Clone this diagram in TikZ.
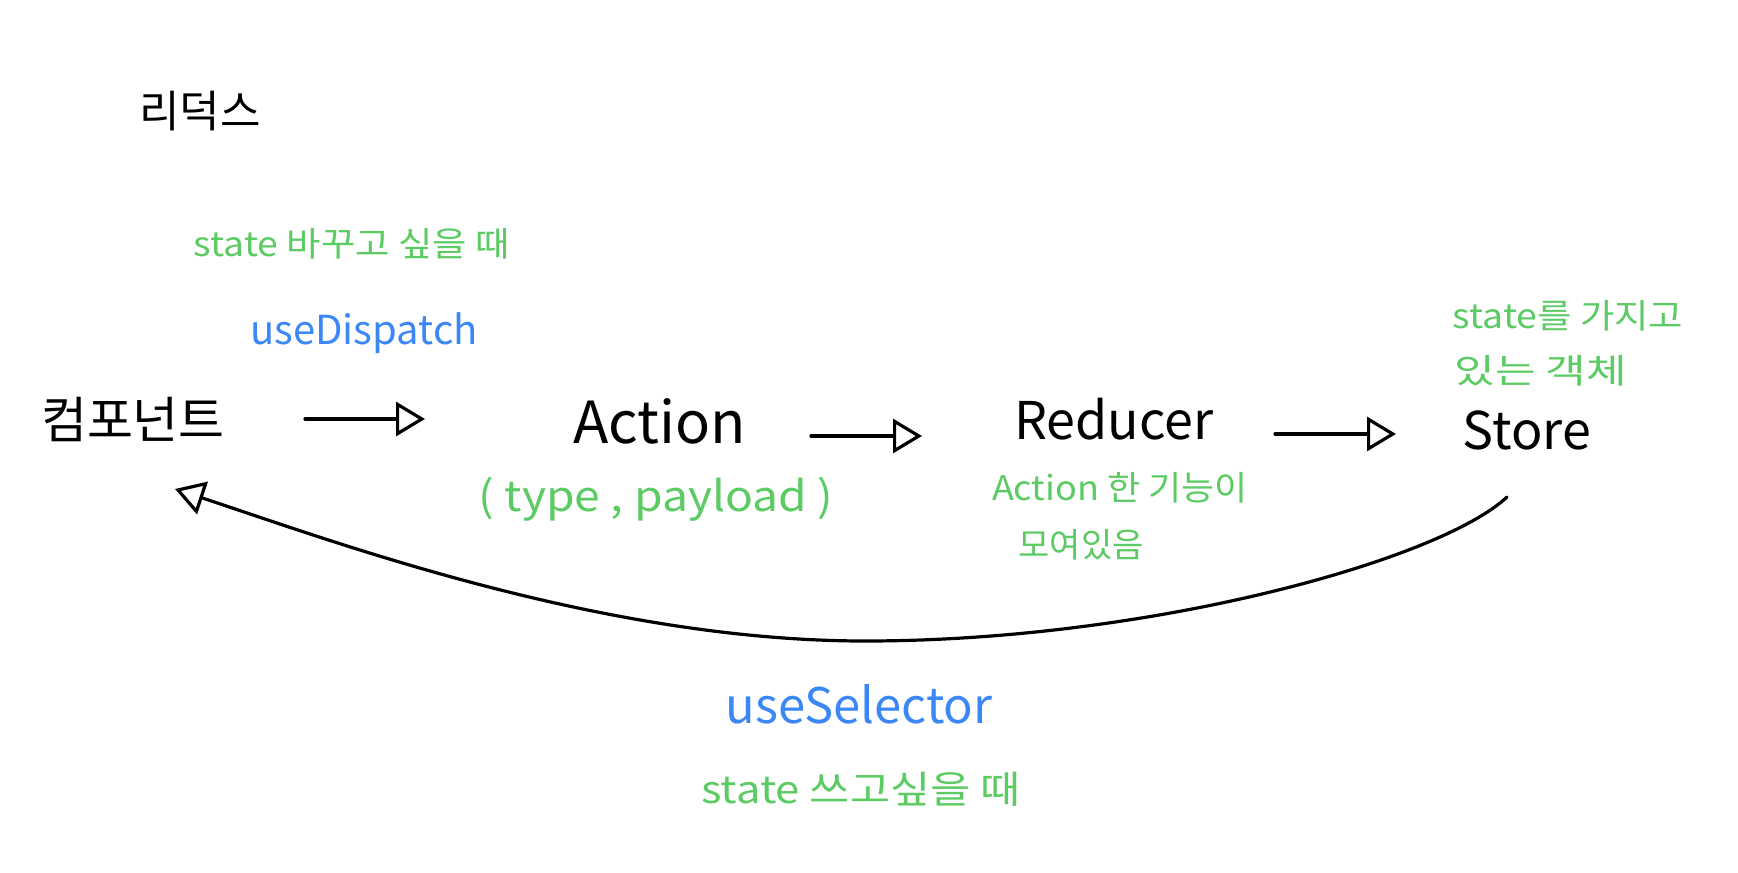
\documentclass[tikz,border=0pt]{standalone}
\usepackage{fontspec}
\setmainfont{Noto Sans CJK KR}
\usetikzlibrary{arrows.meta}
\definecolor{hgreen}{HTML}{5CCB64}
\definecolor{hblue}{HTML}{3B87F5}
\newcommand{\wide}[2]{\scalebox{#1}[1]{#2}}
\tikzset{
  main/.style={inner sep=0pt, text=black, font=\fontsize{52}{60}\selectfont},
  note/.style={inner sep=0pt, text=hgreen, font=\fontsize{34}{40}\selectfont},
  hook/.style={inner sep=0pt, text=hblue, font=\fontsize{40}{48}\selectfont},
  arr/.style={line width=3.2pt, black, line cap=round,
    -{Triangle[open, length=29pt, width=34pt, line width=3.2pt]}},
}
\begin{document}
\begin{tikzpicture}[x=1pt, y=-1pt]
\useasboundingbox (0,0) rectangle (1738,873);
\fill[white] (0,0) rectangle (1738,873);
\node[main, font=\fontsize{44}{52}\selectfont] (title) at (200,111) {리덕스};
\node[note] (n1) at (352,244) {\wide{1.1}{state 바꾸고 싶을 때}};
\node[hook] (disp) at (364,333) {useDispatch};
\node[main, font=\fontsize{50}{58}\selectfont] (komp) at (133,419) {컴포넌트};
\node[main, font=\fontsize{58}{66}\selectfont] (action) at (660,421) {Action};
\node[note, font=\fontsize{42}{48}\selectfont] (payload) at (656,499) {\wide{1.1}{( type , payload )}};
\node[main] (reducer) at (1114,419) {Reducer};
\node[note] (n2a) at (1120,488) {\wide{1.06}{Action 한 기능이}};
\node[note] (n2b) at (1081,545) {모여있음};
\node[main] (store) at (1527,430) {Store};
\node[note] (n3a) at (1568,316) {\wide{1.1}{state를 가지고}};
\node[note] (n3b) at (1541,371) {\wide{1.3}{있는 객체}};
\node[hook, font=\fontsize{49}{56}\selectfont] (sel) at (859,704) {useSelector};
\node[note, font=\fontsize{38}{44}\selectfont] (n4) at (861,789) {\wide{1.15}{state 쓰고싶을 때}};
\draw[arr] ([xshift=172pt]komp.center) -- ([xshift=-235pt,yshift=2pt]action.center);
\draw[arr] ([xshift=151pt,yshift=-15pt]action.center) -- ([xshift=-192pt,yshift=-17pt]reducer.center);
\draw[arr] ([xshift=161pt,yshift=-15pt]reducer.center) -- ([xshift=-131pt,yshift=-4pt]store.center);
\coordinate (cm) at (865,641);
\draw[arr] ([xshift=-20pt,yshift=-67pt]store.center) .. controls (1440,560) and (1150,641) .. (cm)
  .. controls (600,641) and (330,540) .. ([xshift=42pt,yshift=-70pt]komp.center);
\end{tikzpicture}
\end{document}
